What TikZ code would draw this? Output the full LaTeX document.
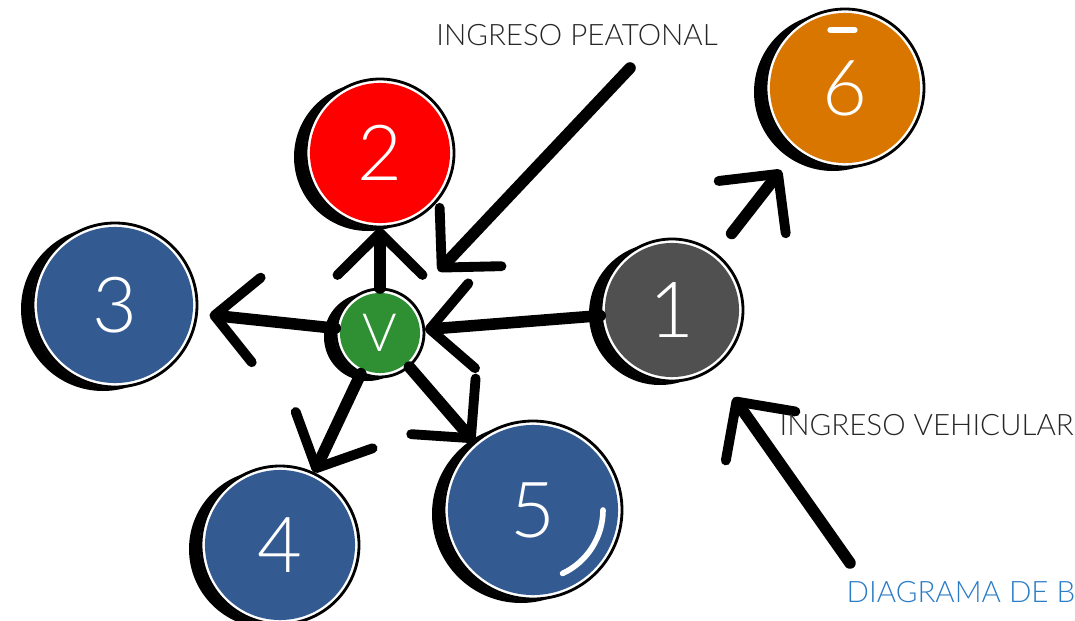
\documentclass[tikz,border=0pt]{standalone}
\usepackage{fontspec}
\IfFontExistsTF{Lato Light}{\setmainfont{Lato Light}}{\setmainfont{Lato}}
\usetikzlibrary{arrows.meta,backgrounds}
\definecolor{burRojo}{HTML}{FF0000}
\definecolor{burAzul}{HTML}{335B92}
\definecolor{burVerde}{HTML}{2F8F33}
\definecolor{burGris}{HTML}{505050}
\definecolor{burNaranja}{HTML}{D87600}
\definecolor{txtGris}{HTML}{262626}
\definecolor{tituloAzul}{HTML}{2A7CC7}
\begin{document}
\begin{tikzpicture}[x=0.01cm, y=-0.01cm,
      bur/.style={circle, inner sep=0pt, outer sep=0.05cm, text=white, font=\fontsize{22}{24}\selectfont},
      flecha/.style={line width=3.3pt, line cap=round, -{Straight Barb[length=4.2mm, width=8.5mm, line width=2.8pt, round]}},
      rotulo/.style={font=\fontsize{8.4}{10}\selectfont, text=txtGris, inner sep=0pt}]
    \useasboundingbox (0,0) rectangle (1075,621);
    \clip (0,0) rectangle (1075,621);
    % burbujas
    \node[bur, fill=burRojo, minimum size=1.40cm]    (b2) at (380,153) {2};
    \node[bur, fill=burAzul, minimum size=1.56cm]    (b3) at (115,305) {3};
    \node[bur, fill=burVerde, minimum size=0.80cm, font=\fontsize{15}{17}\selectfont] (v) at (380,333) {V};
    \node[bur, fill=burGris, minimum size=1.34cm]    (b1) at (672,310) {1};
    \node[bur, fill=burNaranja, minimum size=1.50cm] (b6) at (845,88)  {6};
    \node[bur, fill=burAzul, minimum size=1.50cm]    (b4) at (280,545) {4};
    \node[bur, fill=burAzul, minimum size=1.70cm]    (b5) at (533,510) {5};
    % trazo a mano alrededor
    \begin{scope}[on background layer]
      \foreach \n/\r in {b2/70, b3/78, v/40, b1/67, b6/75, b4/75, b5/85} {
        \fill[black] ([shift={(-12,4)}]\n.center) circle (\r+4);
        \fill[white] (\n.center) circle (\r+5);
        \draw[black, line width=0.8pt] (\n.center) circle (\r+4);
      }
    \end{scope}
    % brillos
    \draw[white, line width=1.6pt, line cap=round] ([shift={(0:70)}]b5.center) arc[start angle=0, end angle=65, radius=70];
    \draw[white, line width=1.5pt, line cap=round] ([shift={(-15,-58)}]b6.center) -- ++(25,0);
    % flechas
    \draw[flecha] (v) -- (b2);
    \draw[flecha, shorten >=0.12cm] (v) -- (b3);
    \draw[flecha] (v) -- (b4);
    \draw[flecha] (v) -- (b5);
    \draw[flecha] (b1) -- (v);
    \draw[flecha, shorten <=0.25cm, shorten >=0.24cm] (b1) -- (b6);
    \coordinate (pea) at (630,68);
    \coordinate (veh) at (850,563);
    \draw[flecha, shorten >=0.4cm] (pea) -- (v);
    \draw[flecha, shorten >=0.35cm] (veh) -- (b1);
    % textos
    \node[rotulo] (tpea) at (577,35) {INGRESO PEATONAL};
    \node[rotulo, anchor=west] (tveh) at (779,425) {INGRESO VEHICULAR};
    \node[rotulo, anchor=west, text=tituloAzul] (ttit) at (846,592) {DIAGRAMA DE BURBUJAS};
  \end{tikzpicture}
\end{document}
